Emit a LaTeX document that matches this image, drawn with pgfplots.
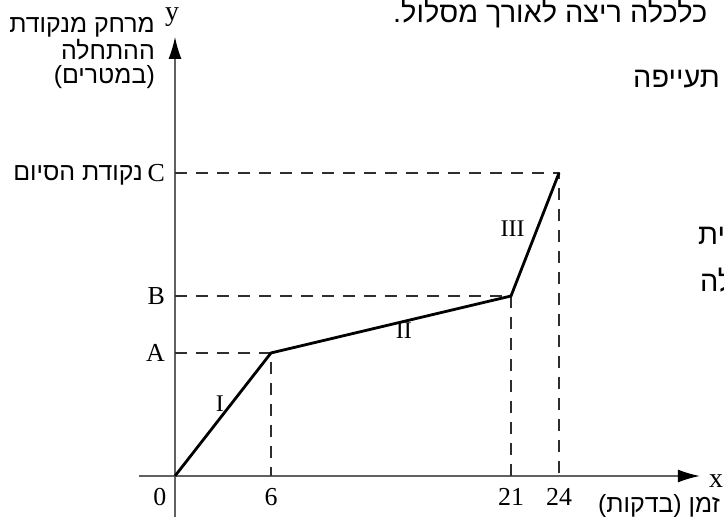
\documentclass[border=0pt]{standalone}
\usepackage{fontspec}
\setmainfont{Liberation Serif}
\newfontfamily\hebfont[Script=Hebrew]{Liberation Sans}
\usepackage{pgfplots}
\pgfplotsset{compat=1.18}
\usetikzlibrary{arrows.meta}
\TeXXeTstate=1

% distance levels A, B, C (same unit as the minutes axis)
\def\yA{7.69}
\def\yB{11.25}
\def\yC{18.94}

\begin{document}
\begin{tikzpicture}[x=1bp,y=1bp]
\useasboundingbox (0,0) rectangle (724,517);
\clip (0,0) rectangle (724,517);

\begin{axis}[
  at={(175bp,41bp)}, anchor=origin,
  x=16bp, y=16bp,
  xmin=-2.25, xmax=32.8, ymin=-2.7, ymax=27.44,
  axis lines=middle,
  axis line style={draw=black!62, line width=1.3bp},
  x axis line style={-{Latex[length=22bp,width=13bp,color=black]}},
  y axis line style={-{Latex[length=22bp,width=13bp,color=black]}},
  xtick={6,21,24},
  ytick={\yA,\yB,\yC},
  yticklabels={A,B,C},
  major tick length=0pt,
  /pgf/number format/assume math mode=true,
  tick label style={font=\fontsize{26}{30}\selectfont},
  xticklabel style={anchor=base, inner sep=0pt, yshift=-30bp},
  yticklabel style={anchor=east, inner sep=0pt, xshift=-10bp},
  clip=false,
]
% guide lines down to the axes
\addplot[dash pattern=on 12bp off 9bp, line width=1.4bp, black!82]
  coordinates {(0,\yA) (6,\yA) (6,0)};
\addplot[dash pattern=on 12bp off 9bp, line width=1.4bp, black!82]
  coordinates {(0,\yB) (21,\yB) (21,0)};
\addplot[dash pattern=on 12bp off 9bp, line width=1.4bp, black!82]
  coordinates {(0,\yC) (24,\yC) (24,0)};
% the run
\addplot[black, line width=2.8bp, line join=miter]
  coordinates {(0,0) (6,\yA) (21,\yB) (24,\yC)};

\node[anchor=base, inner sep=0pt, font=\fontsize{26}{30}\selectfont]
  at (axis cs:-0.94,-1.875) {0};
\node[font=\fontsize{24}{28}\selectfont] at (axis cs:2.81,4.5) {I};
\node[font=\fontsize{24}{28}\selectfont] at (axis cs:14.3,9.06) {II};
\node[font=\fontsize{24}{28}\selectfont] at (axis cs:21.1,15.44) {III};
\end{axis}

% axis names
\node[anchor=base, inner sep=0pt, font=\fontsize{28}{32}\selectfont] at (172,496) {y};
\node[font=\fontsize{28}{32}\selectfont] at (716,36) {x};
\begin{scope}[every node/.style={anchor=base east, inner sep=0pt,
      font=\hebfont\fontsize{25}{30}\selectfont}]
  \node at (155,484) {\beginR מרחק מנקודת\endR};
  \node at (155,457) {\beginR ההתחלה\endR};
  \node at (155,433) {\beginR (במטרים)\endR};
  \node at (720,4) {\beginR זמן (בדקות)\endR};
  \node at (143,336) {\beginR נקודת הסיום\endR};
\end{scope}

% surrounding question text
\begin{scope}[every node/.style={inner sep=0pt,
      font=\hebfont\fontsize{29}{34}\selectfont}]
  \node[anchor=base west] at (393,494) {\beginR כלכלה ריצה לאורך מסלול.\endR};
  \node[anchor=base east] at (720,429) {\beginR תעייפה\endR};
  \node[anchor=base west] at (698,272) {\beginR ית\endR};
  \node[anchor=base west] at (700,225) {\beginR לה\endR};
\end{scope}
\end{tikzpicture}
\end{document}
